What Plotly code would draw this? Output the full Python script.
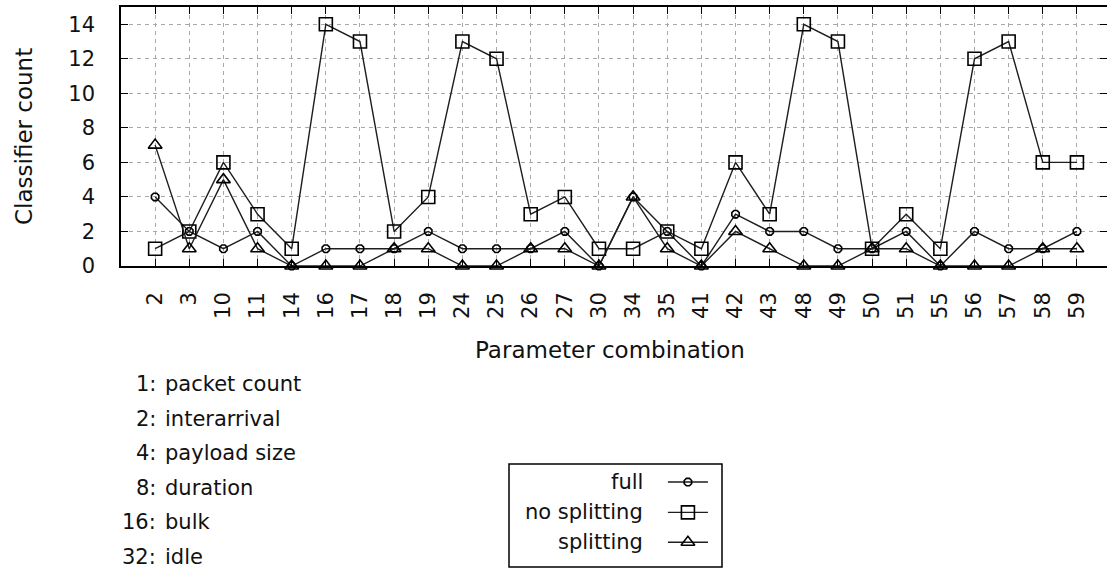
import plotly.graph_objects as go

W, H = 1107, 570

categories = ["2", "3", "10", "11", "14", "16", "17", "18", "19", "24", "25", "26", "27", "30",
              "34", "35", "41", "42", "43", "48", "49", "50", "51", "55", "56", "57", "58", "59"]
full = [4, 2, 1, 2, 0, 1, 1, 1, 2, 1, 1, 1, 2, 0, 4, 2, 0, 3, 2, 2, 1, 1, 2, 0, 2, 1, 1, 2]
no_splitting = [1, 2, 6, 3, 1, 14, 13, 2, 4, 13, 12, 3, 4, 1, 1, 2, 1, 6, 3, 14, 13, 1, 3, 1, 12, 13, 6, 6]
splitting = [7, 1, 5, 1, 0, 0, 0, 1, 1, 0, 0, 1, 1, 0, 4, 1, 0, 2, 1, 0, 0, 1, 1, 0, 0, 0, 1, 1]
y_ticks = [0, 2, 4, 6, 8, 10, 12, 14]
param_keys = ["1:", "2:", "4:", "8:", "16:", "32:"]
param_names = ["packet count", "interarrival", "payload size", "duration", "bulk", "idle"]
series_names = ["full", "no splitting", "splitting"]

FONT = "DejaVu Sans"
LINE = "#1e1e1e"
GRID = "#a8a8a8"

styles = {
    "full": dict(symbol="octagon-open", size=8),
    "no splitting": dict(symbol="square-open", size=13),
    "splitting": dict(symbol="triangle-up-open", size=12),
}
series = {"full": full, "no splitting": no_splitting, "splitting": splitting}

xi = list(range(len(categories)))
fig = go.Figure()
for name in series_names:
    st = styles[name]
    fig.add_trace(go.Scatter(
        x=xi, y=series[name], mode="lines+markers", name=name, showlegend=False,
        line=dict(color=LINE, width=1.4),
        marker=dict(symbol=st["symbol"], size=st["size"], color="black",
                    line=dict(color="black", width=1.6)),
        cliponaxis=False,
    ))

# invisible trace to ensure right-side tick axis is drawn
fig.add_trace(go.Scatter(x=[0], y=[0], yaxis="y2", mode="markers",
                         marker=dict(opacity=0), showlegend=False, hoverinfo="skip"))

def px(x):
    return x / W

def py(y):
    return 1 - y / H

# manual legend (text left, key right), placed on its own small axes
leg_x0, leg_x1, leg_y0, leg_y1 = 509, 722, 464, 567
key_rows = [0.825, 0.53, 0.24]
for name, ky in zip(series_names, key_rows):
    st = styles[name]
    fig.add_trace(go.Scatter(x=[0.746, 0.934], y=[ky, ky], xaxis="x3", yaxis="y3",
                             mode="lines", line=dict(color=LINE, width=1.4),
                             showlegend=False, hoverinfo="skip"))
    fig.add_trace(go.Scatter(x=[0.84], y=[ky], xaxis="x3", yaxis="y3", mode="markers",
                             marker=dict(symbol=st["symbol"], size=st["size"], color="black",
                                         line=dict(color="black", width=1.6)),
                             showlegend=False, hoverinfo="skip"))

annotations = []
for name, ky in zip(series_names, key_rows):
    annotations.append(dict(x=0.64, y=ky, xref="x3", yref="y3", text=name, showarrow=False,
                            xanchor="right", yanchor="middle",
                            font=dict(family=FONT, size=21, color="#111")))

for i, (k, n) in enumerate(zip(param_keys, param_names)):
    yy = 384 + i * 34.6
    annotations.append(dict(x=px(158), y=py(yy), xref="paper", yref="paper", text=k,
                            showarrow=False, xanchor="right", yanchor="middle",
                            font=dict(family=FONT, size=21, color="#111")))
    annotations.append(dict(x=px(163), y=py(yy), xref="paper", yref="paper", text=n,
                            showarrow=False, xanchor="left", yanchor="middle",
                            font=dict(family=FONT, size=21, color="#111")))

annotations.append(dict(x=px(610), y=py(350), xref="paper", yref="paper",
                        text="Parameter combination", showarrow=False,
                        xanchor="center", yanchor="middle",
                        font=dict(family=FONT, size=23, color="#111")))
annotations.append(dict(x=px(24), y=py(137), xref="paper", yref="paper",
                        text="Classifier count", showarrow=False, textangle=-90,
                        xanchor="center", yanchor="middle",
                        font=dict(family=FONT, size=23, color="#111")))

shapes = [dict(type="rect", xref="paper", yref="paper",
               x0=px(leg_x0), x1=px(leg_x1), y0=py(leg_y1), y1=py(leg_y0),
               line=dict(color="black", width=1.5), fillcolor="rgba(0,0,0,0)")]

x_lo = -1.0
spacing = 34.14
x_hi = (W - 121) / spacing - 1

fig.update_layout(
    width=W, height=H,
    margin=dict(l=0, r=0, t=0, b=0, pad=0, autoexpand=False),
    paper_bgcolor="white", plot_bgcolor="white",
    showlegend=False,
    font=dict(family=FONT, size=21, color="#111"),
    xaxis=dict(domain=[px(121), 1.0], range=[x_lo, x_hi], tickmode="array",
               tickvals=xi, ticktext=categories, tickangle=-90,
               ticks="inside", ticklen=7, tickwidth=1.3, tickcolor="black",
               showline=True, linecolor="black", linewidth=1.5, mirror="ticks",
               showgrid=True, gridcolor=GRID, gridwidth=1, griddash="4px,4px",
               zeroline=False, ticklabelstandoff=16, automargin=False,
               tickfont=dict(family=FONT, size=21, color="#111")),
    yaxis=dict(domain=[py(266), py(7)], range=[0, 15], tickmode="array",
               tickvals=y_ticks, ticks="inside", ticklen=7, tickwidth=1.3, tickcolor="black",
               showline=True, linecolor="black", linewidth=1.5, mirror=False,
               showgrid=True, gridcolor=GRID, gridwidth=1, griddash="4px,4px",
               zeroline=False, ticklabelstandoff=20, automargin=False,
               tickfont=dict(family=FONT, size=21, color="#111")),
    yaxis2=dict(overlaying="y", side="right", anchor="x", range=[0, 15],
                tickmode="array", tickvals=y_ticks, ticks="inside", ticklen=7,
                tickwidth=1.3, tickcolor="black", showticklabels=False,
                showline=False, showgrid=False, zeroline=False, automargin=False),
    xaxis3=dict(domain=[px(leg_x0), px(leg_x1)], range=[0, 1], visible=False,
                anchor="y3", automargin=False),
    yaxis3=dict(domain=[py(leg_y1), py(leg_y0)], range=[0, 1], visible=False,
                anchor="x3", automargin=False),
    annotations=annotations,
    shapes=shapes,
)

fig.write_html("out.html")
